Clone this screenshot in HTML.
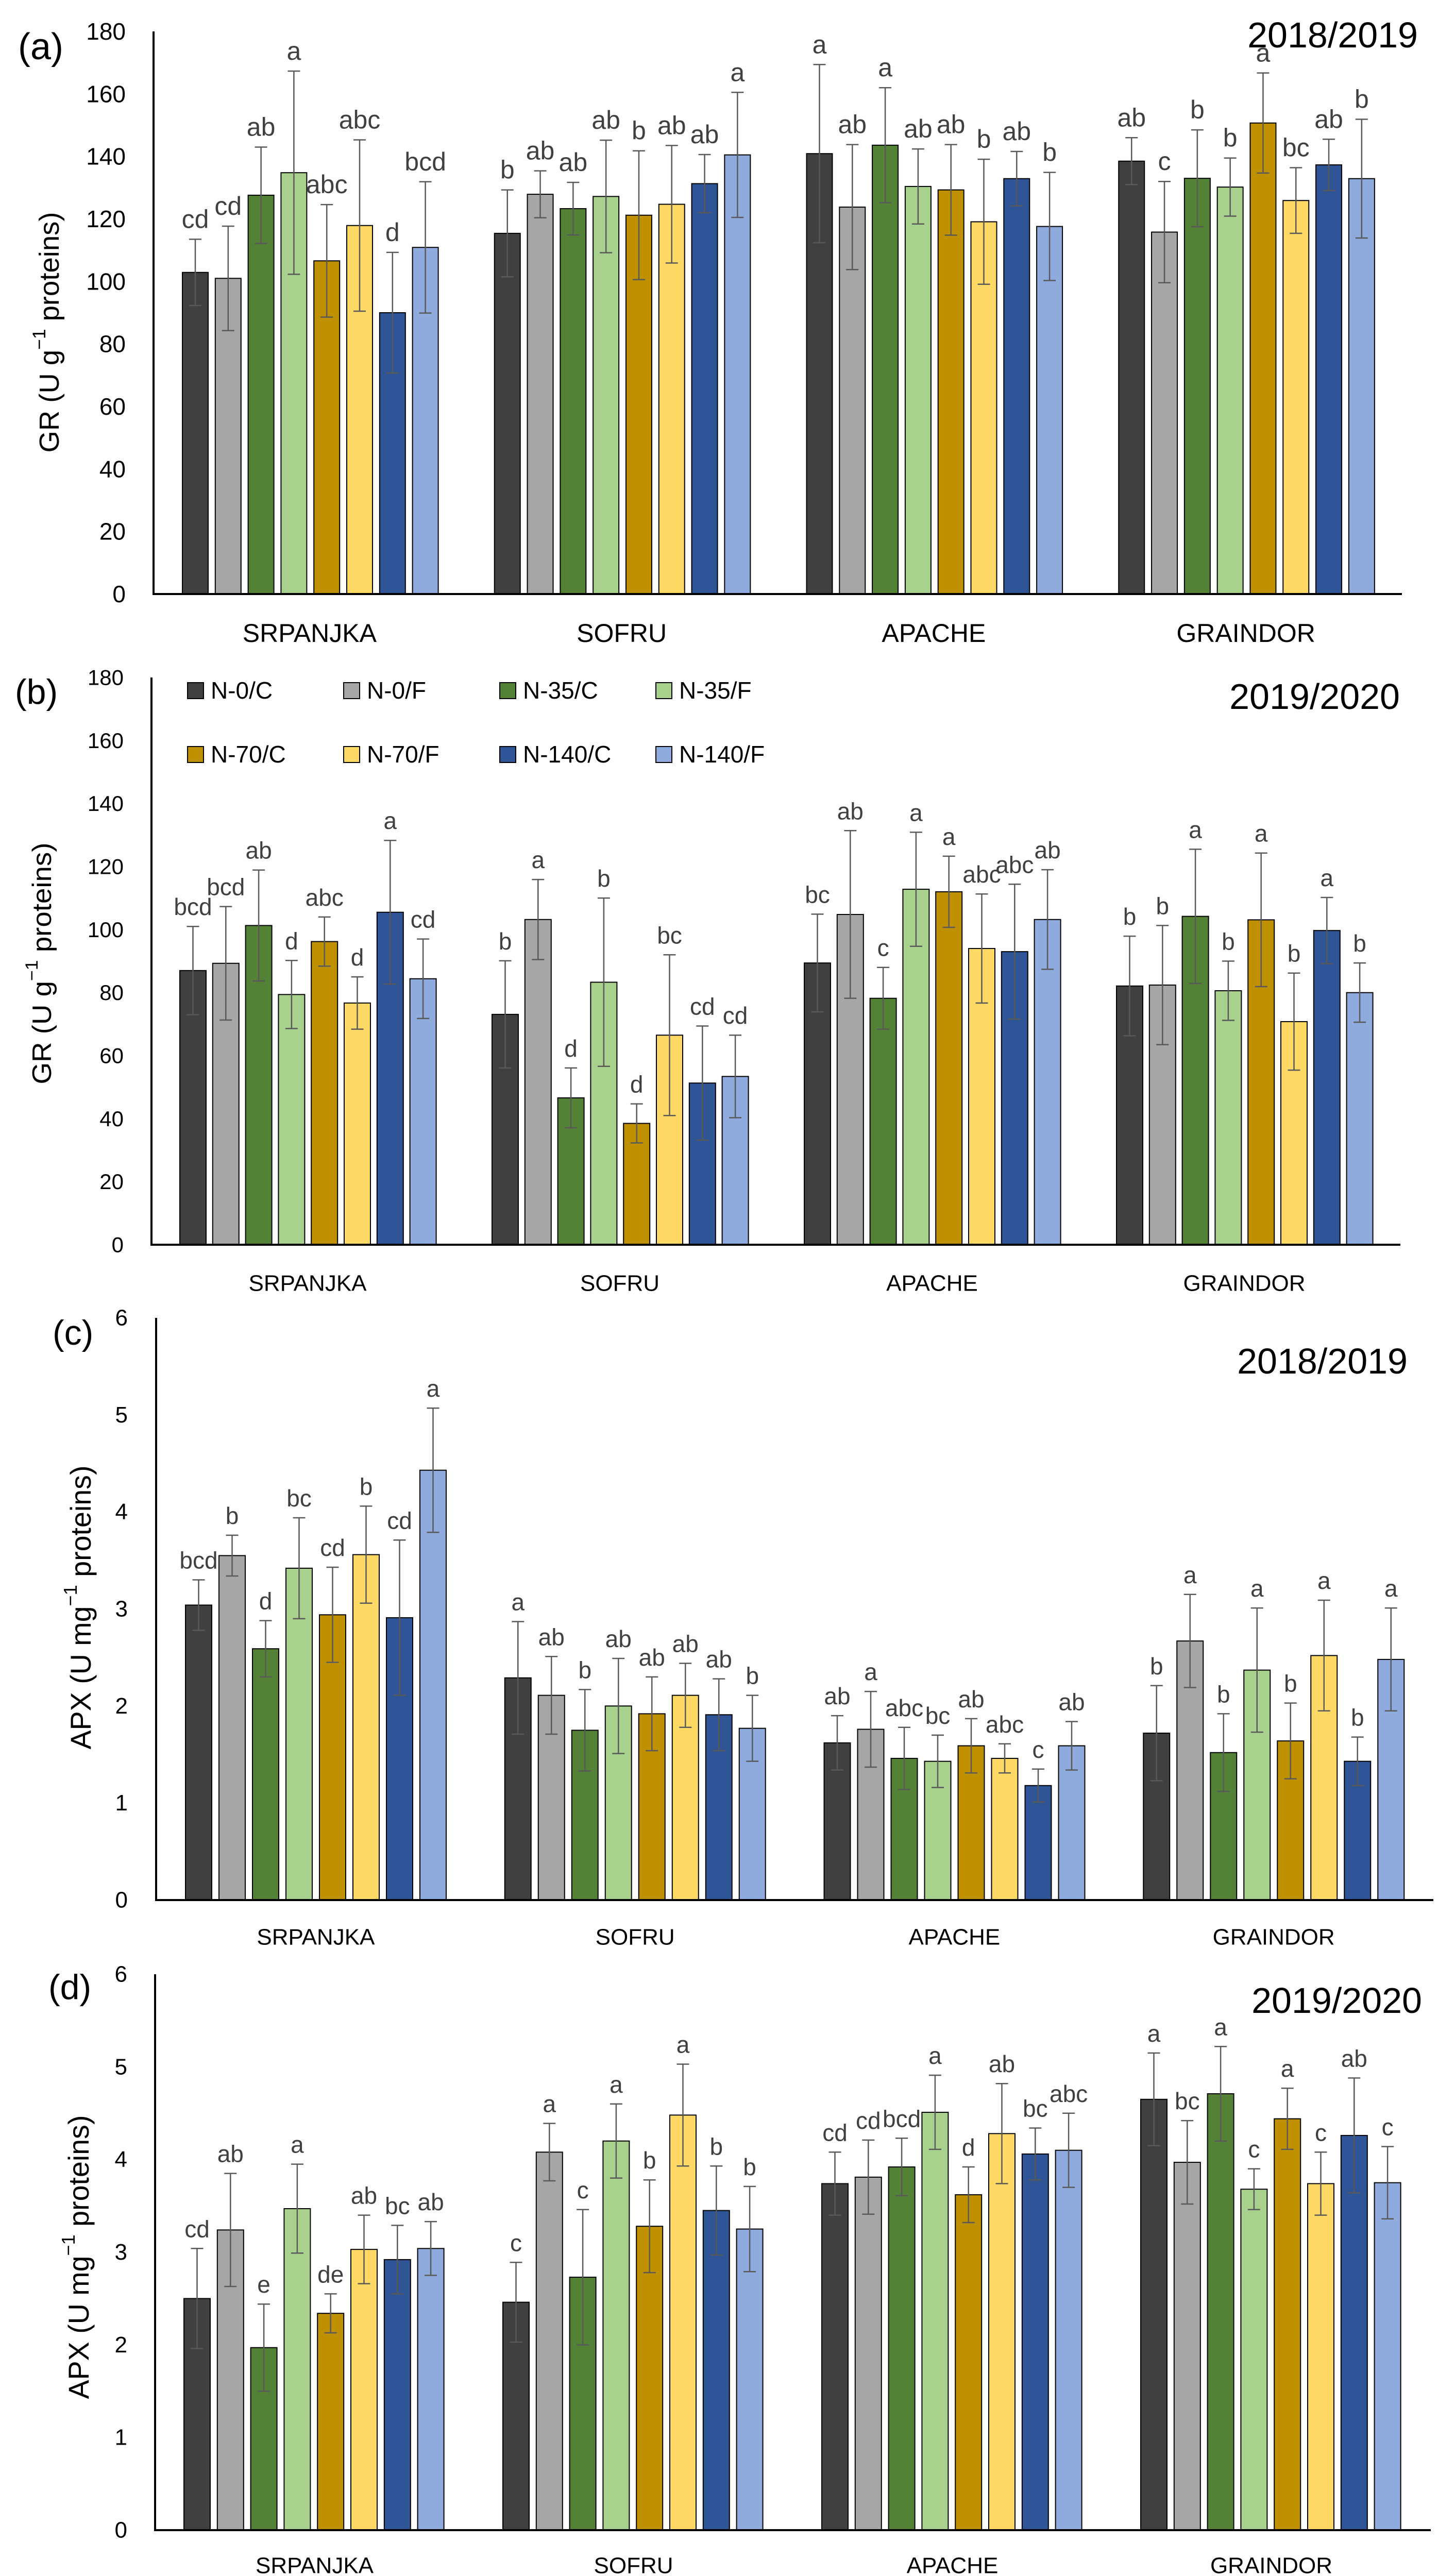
<!DOCTYPE html>
<html><head><meta charset="utf-8">
<style>
html,body{margin:0;padding:0;background:#fff;width:2824px;height:5037px;overflow:hidden;}
svg{display:block;}
text{font-family:"Liberation Sans",sans-serif;}
</style></head>
<body>
<svg id="fig" width="2824" height="5037" viewBox="0 0 2824 5037" xmlns="http://www.w3.org/2000/svg" overflow="hidden"></svg>
<script>
// ---- shared data ----
const cultivars = ["SRPANJKA","SOFRU","APACHE","GRAINDOR"];
const seriesNames = ["N-0/C","N-0/F","N-35/C","N-35/F","N-70/C","N-70/F","N-140/C","N-140/F"];
const seriesColors = ["#404040","#a6a6a6","#538135","#a9d18e","#bf9000","#ffd966","#2f5597","#8faadc"];

// Panel (a) GR 2018/2019 — values per cultivar (8 treatments each)
const aVals = [[102.9,101,127.6,134.8,106.6,117.9,90,110.9],[115.4,127.9,123.3,127.2,121.2,124.7,131.3,140.5],[140.9,123.8,143.6,130.4,129.3,119.1,132.9,117.6],[138.5,115.8,133,130.2,150.7,125.9,137.3,132.9]];
const aErr = [[10.6,16.7,15.4,32.5,18,27.4,19.3,21],[13.9,7.5,8.4,18,20.6,18.8,9.3,20],[28.5,20,18.4,12,14.5,20,8.7,17.3],[7.5,16.2,15.5,9.3,16,10.5,8.2,19]];
const aLetters = [["cd","cd","ab","a","abc","abc","d","bcd"],["b","ab","ab","ab","b","ab","ab","a"],["a","ab","a","ab","ab","b","ab","b"],["ab","c","b","b","a","bc","ab","b"]];
const aTicks = [0,20,40,60,80,100,120,140,160,180];

// Panel (b) GR 2019/2020
const bVals = [[87,89.3,101.3,79.4,96.2,76.7,105.5,84.4],[73.1,103.2,46.6,83.3,38.5,66.5,51.3,53.4],[89.4,104.8,78.2,112.8,112,94,93,103.2],[82.1,82.4,104.2,80.6,103.1,70.8,99.7,80]];
const bErr = [[14,18,17.6,10.8,7.8,8.3,22.8,12.6],[17,12.7,9.5,26.7,6.2,25.5,18.1,13.1],[15.5,26.6,9.8,18.1,11.3,17.3,21.4,15.8],[15.8,18.9,21.3,9.4,21.2,15.4,10.5,9.4]];
const bLetters = [["bcd","bcd","ab","d","abc","d","a","cd"],["b","a","d","b","d","bc","cd","cd"],["bc","ab","c","a","a","abc","abc","ab"],["b","b","a","b","a","b","a","b"]];
const bTicks = [0,20,40,60,80,100,120,140,160,180];

// Panel (c) APX 2018/2019
const cVals = [[3.04,3.55,2.59,3.42,2.94,3.56,2.91,4.43],[2.29,2.11,1.75,2.0,1.92,2.11,1.91,1.77],[1.62,1.76,1.46,1.43,1.59,1.46,1.18,1.59],[1.72,2.67,1.52,2.37,1.64,2.52,1.43,2.48]];
const cErr = [[0.26,0.21,0.29,0.52,0.49,0.5,0.8,0.64],[0.58,0.4,0.42,0.49,0.38,0.33,0.37,0.34],[0.28,0.39,0.32,0.27,0.28,0.15,0.17,0.25],[0.49,0.48,0.4,0.64,0.39,0.57,0.25,0.53]];
const cLetters = [["bcd","b","d","bc","cd","b","cd","a"],["a","ab","b","ab","ab","ab","ab","b"],["ab","a","abc","bc","ab","abc","c","ab"],["b","a","b","a","b","a","b","a"]];
const cTicks = [0,1,2,3,4,5,6];

// Panel (d) APX 2019/2020
const dVals = [[2.5,3.24,1.97,3.47,2.34,3.03,2.92,3.04],[2.46,4.08,2.73,4.2,3.28,4.48,3.45,3.25],[3.74,3.81,3.92,4.51,3.62,4.28,4.06,4.1],[4.65,3.97,4.71,3.68,4.44,3.74,4.26,3.75]];
const dErr = [[0.54,0.61,0.47,0.48,0.21,0.37,0.37,0.29],[0.43,0.31,0.73,0.4,0.5,0.55,0.48,0.46],[0.34,0.4,0.31,0.4,0.3,0.54,0.28,0.4],[0.5,0.45,0.51,0.22,0.33,0.34,0.62,0.39]];
const dLetters = [["cd","ab","e","a","de","ab","bc","ab"],["c","a","c","a","b","a","b","b"],["cd","cd","bcd","a","d","ab","bc","abc"],["a","bc","a","c","a","c","ab","c"]];
const dTicks = [0,1,2,3,4,5,6];

const NS = "http://www.w3.org/2000/svg";
const svg = document.getElementById('fig');
function mk(tag, attrs, parent, txt){
  const e = document.createElementNS(NS, tag);
  for (const k in attrs) e.setAttribute(k, attrs[k]);
  if (txt !== undefined) e.textContent = txt;
  (parent||svg).appendChild(e);
  return e;
}

const panels = [
  {id:"a", vals:aVals, err:aErr, letters:aLetters, ticks:aTicks, max:180, ax:298, end:2721, y0:1153, ytop:61, off:56, bw:50, pitch:63.8,
   tickRight:244, tickFs:46, letFs:50, catY:1229, catFs:50, title:"GR", unit:"g", tx:96, ty:645, tFs:54, tLen:467,
   lab:"(a)", labX:35, labY:115, labFs:72, year:"2018/2019", yearX:2752, yearY:92, yearFs:70},
  {id:"b", vals:bVals, err:bErr, letters:bLetters, ticks:bTicks, max:180, ax:294, end:2718, y0:2416, ytop:1315, off:55, bw:51, pitch:63.8,
   tickRight:240, tickFs:42, letFs:46, catY:2491, catFs:44, title:"GR", unit:"g", tx:82, ty:1870, tFs:52, tLen:469,
   lab:"(b)", labX:29, labY:1366, labFs:68, year:"2019/2020", yearX:2717, yearY:1376, yearFs:70},
  {id:"c", vals:cVals, err:cErr, letters:cLetters, ticks:cTicks, max:6, ax:303, end:2782, y0:3688, ytop:2558, off:57, bw:51, pitch:65,
   tickRight:248, tickFs:44, letFs:46, catY:3760, catFs:44, title:"APX", unit:"mg", tx:156, ty:3120, tFs:56, tLen:551,
   lab:"(c)", labX:102, labY:2610, labFs:68, year:"2018/2019", yearX:2732, yearY:2666, yearFs:70},
  {id:"d", vals:dVals, err:dErr, letters:dLetters, ticks:dTicks, max:6, ax:301, end:2777, y0:4911, ytop:3832, off:56, bw:51, pitch:64.8,
   tickRight:247, tickFs:44, letFs:46, catY:4980, catFs:44, title:"APX", unit:"mg", tx:152, ty:4381, tFs:56, tLen:551,
   lab:"(d)", labX:94, labY:3880, labFs:68, year:"2019/2020", yearX:2760, yearY:3907, yearFs:70}
];

panels.forEach(p => {
  const g = mk('g', {});
  
  
  const yScale = v => p.y0 - (v / p.max) * (p.y0 - p.ytop);
  const catW = (p.end - p.ax) / cultivars.length;
  const xBar = (ci, si) => p.ax + ci * catW + p.off + si * p.pitch;

  p.ticks.forEach(t => {
    const tl = mk('text', {x:p.tickRight, y:yScale(t), 'font-size':p.tickFs, 'text-anchor':'end', 'dominant-baseline':'central', fill:'#000'}, g, String(t));
    
    
  });

  p.vals.forEach((row, ci) => {
    row.forEach((v, si) => {
      const x = xBar(ci, si);
      const top = yScale(v);
      const r = mk('rect', {x:x, y:top, width:p.bw, height:p.y0 - top, fill:seriesColors[si], stroke:'#000', 'stroke-width':2}, g);
      
      
      const e = p.err[ci][si];
      const cx = x + p.bw / 2;
      const eT = yScale(v + e), eB = yScale(v - e);
      const eg = mk('g', {stroke:'#595959', 'stroke-width':2.5}, g);
      
      
      mk('line', {x1:cx, y1:eT, x2:cx, y2:eB}, eg);
      mk('line', {x1:cx - 12, y1:eT, x2:cx + 12, y2:eT}, eg);
      mk('line', {x1:cx - 12, y1:eB, x2:cx + 12, y2:eB}, eg);
      const lt = mk('text', {x:cx, y:eT - 22, 'font-size':p.letFs, 'text-anchor':'middle', fill:'#404040'}, g, p.letters[ci][si]);
      
      
    });
    const cl = mk('text', {x:p.ax + ci * catW + catW / 2, y:p.catY, 'font-size':p.catFs, 'text-anchor':'middle', 'dominant-baseline':'central', fill:'#000'}, g, cultivars[ci]);
    
    
  });

  const ya = mk('line', {x1:p.ax, y1:p.ytop, x2:p.ax, y2:p.y0 + 2, stroke:'#000', 'stroke-width':4}, g);
  
  
  const xa = mk('line', {x1:p.ax - 2, y1:p.y0, x2:p.end, y2:p.y0, stroke:'#000', 'stroke-width':4}, g);
  
  

  const tt = mk('text', {x:0, y:0, 'font-size':p.tFs, 'text-anchor':'middle', 'dominant-baseline':'central', fill:'#000',
    transform:'translate(' + p.tx + ',' + p.ty + ') rotate(-90)', textLength:p.tLen, lengthAdjust:'spacingAndGlyphs'}, g);
  
  
  mk('tspan', {}, tt, p.title + ' (U ' + p.unit);
  mk('tspan', {dy:-20, 'font-size':p.tFs * 0.65}, tt, '\u22121');
  mk('tspan', {dy:20}, tt, ' proteins)');

  const pl = mk('text', {x:p.labX, y:p.labY, 'font-size':p.labFs, fill:'#000'}, g, p.lab);
  
  
  const yl = mk('text', {x:p.yearX, y:p.yearY, 'font-size':p.yearFs, 'text-anchor':'end', fill:'#000'}, g, p.year);
  
  
});

const lg = mk('g', {});


const legCols = [364, 667, 970, 1273];
const legRows = [1340, 1464];
seriesNames.forEach((n, i) => {
  const x = legCols[i % 4], y = legRows[Math.floor(i / 4)];
  const eg = mk('g', {}, lg);
  
  
  mk('rect', {x:x, y:y - 15, width:31, height:31, fill:seriesColors[i], stroke:'#000', 'stroke-width':2}, eg);
  mk('text', {x:x + 45, y:y, 'font-size':46, 'dominant-baseline':'central', fill:'#000'}, eg, n);
});
</script>
</body></html>
